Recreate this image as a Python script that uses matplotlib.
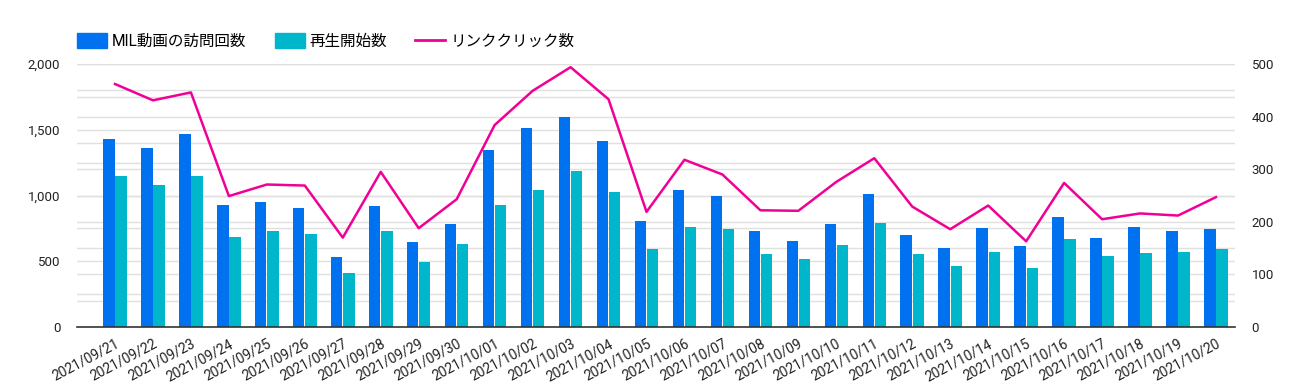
import numpy as np
import matplotlib.pyplot as plt
from matplotlib.patches import Patch
from matplotlib.lines import Line2D

plt.rcParams['font.family'] = ['Roboto', 'Noto Sans CJK JP', 'DejaVu Sans']

# data
dates = ["2021/09/21", "2021/09/22", "2021/09/23", "2021/09/24", "2021/09/25",
         "2021/09/26", "2021/09/27", "2021/09/28", "2021/09/29", "2021/09/30",
         "2021/10/01", "2021/10/02", "2021/10/03", "2021/10/04", "2021/10/05",
         "2021/10/06", "2021/10/07", "2021/10/08", "2021/10/09", "2021/10/10",
         "2021/10/11", "2021/10/12", "2021/10/13", "2021/10/14", "2021/10/15",
         "2021/10/16", "2021/10/17", "2021/10/18", "2021/10/19", "2021/10/20"]
visits = [1433, 1365, 1466, 927, 953, 902, 534, 920, 650, 785,
          1349, 1517, 1601, 1415, 808, 1044, 996, 734, 658, 785,
          1014, 701, 600, 750, 617, 836, 676, 760, 727, 745]
plays = [1146, 1080, 1146, 684, 727, 709, 414, 727, 498, 633,
         927, 1044, 1187, 1029, 592, 760, 745, 559, 516, 625,
         795, 559, 465, 574, 450, 668, 541, 567, 574, 592]
clicks = [462, 431, 446, 249, 271, 269, 170, 295, 188, 243,
          384, 449, 494, 433, 219, 318, 290, 222, 221, 276,
          321, 229, 186, 231, 163, 274, 205, 216, 212, 247]

labels = ["MIL動画の訪問回数", "再生開始数", "リンククリック数"]
c_blue, c_teal, c_pink = "#0072f0", "#00b6cb", "#f10096"
grid_c = "#e0e0e0"

fig = plt.figure(figsize=(12.99, 3.88), dpi=100)
ax = fig.add_axes([0.0593, 0.157, 0.8914, 0.678])
ax2 = ax.twinx()

x = np.arange(len(dates))
w = 0.30
ax.bar(x - 0.16, visits, w, color=c_blue, zorder=2)
ax.bar(x + 0.16, plays, w, color=c_teal, zorder=2)
ax2.plot(x, clicks, color=c_pink, lw=1.8, zorder=3)

ax.set_ylim(0, 2000)
ax2.set_ylim(0, 500)
ax.set_xlim(-1.0, 29.5)

ax.set_yticks(np.arange(0, 2001, 500))
ax.set_yticklabels([f"{v:,}" for v in range(0, 2001, 500)])
ax2.set_yticks(np.arange(0, 501, 100))

# gridlines: left axis every 250, right axis every 50 (drawn under the bars)
for v in np.arange(250, 2001, 250):
    ax.axhline(v, color=grid_c, lw=1, zorder=0)
scale = ax.get_ylim()[1] / ax2.get_ylim()[1]
for v in np.arange(50, 501, 50):
    ax.axhline(v * scale, color=grid_c, lw=1, zorder=0)

ax.set_xticks(x)
ax.set_xticklabels(dates, rotation=28, ha='right', rotation_mode='anchor')

for a in (ax, ax2):
    for s in a.spines.values():
        s.set_visible(False)
    a.tick_params(axis='y', length=0, labelsize=9.5, colors="#222222", pad=12)
ax.spines['bottom'].set_visible(True)
ax.spines['bottom'].set_color("#333333")
ax.spines['bottom'].set_linewidth(1.2)
ax.tick_params(axis='x', length=0, labelsize=10, colors="#222222", pad=7)
ax.set_axisbelow(True)

handles = [Patch(color=c_blue), Patch(color=c_teal), Line2D([], [], color=c_pink, lw=2)]
fig.legend(handles, labels, loc='center left', bbox_to_anchor=(0.0593, 0.894),
           ncol=3, frameon=False, fontsize=11.2, handlelength=1.93, handleheight=1.08,
           handletextpad=0.33, columnspacing=1.8, borderpad=0, borderaxespad=0)

fig.savefig("out.png", dpi=100)
